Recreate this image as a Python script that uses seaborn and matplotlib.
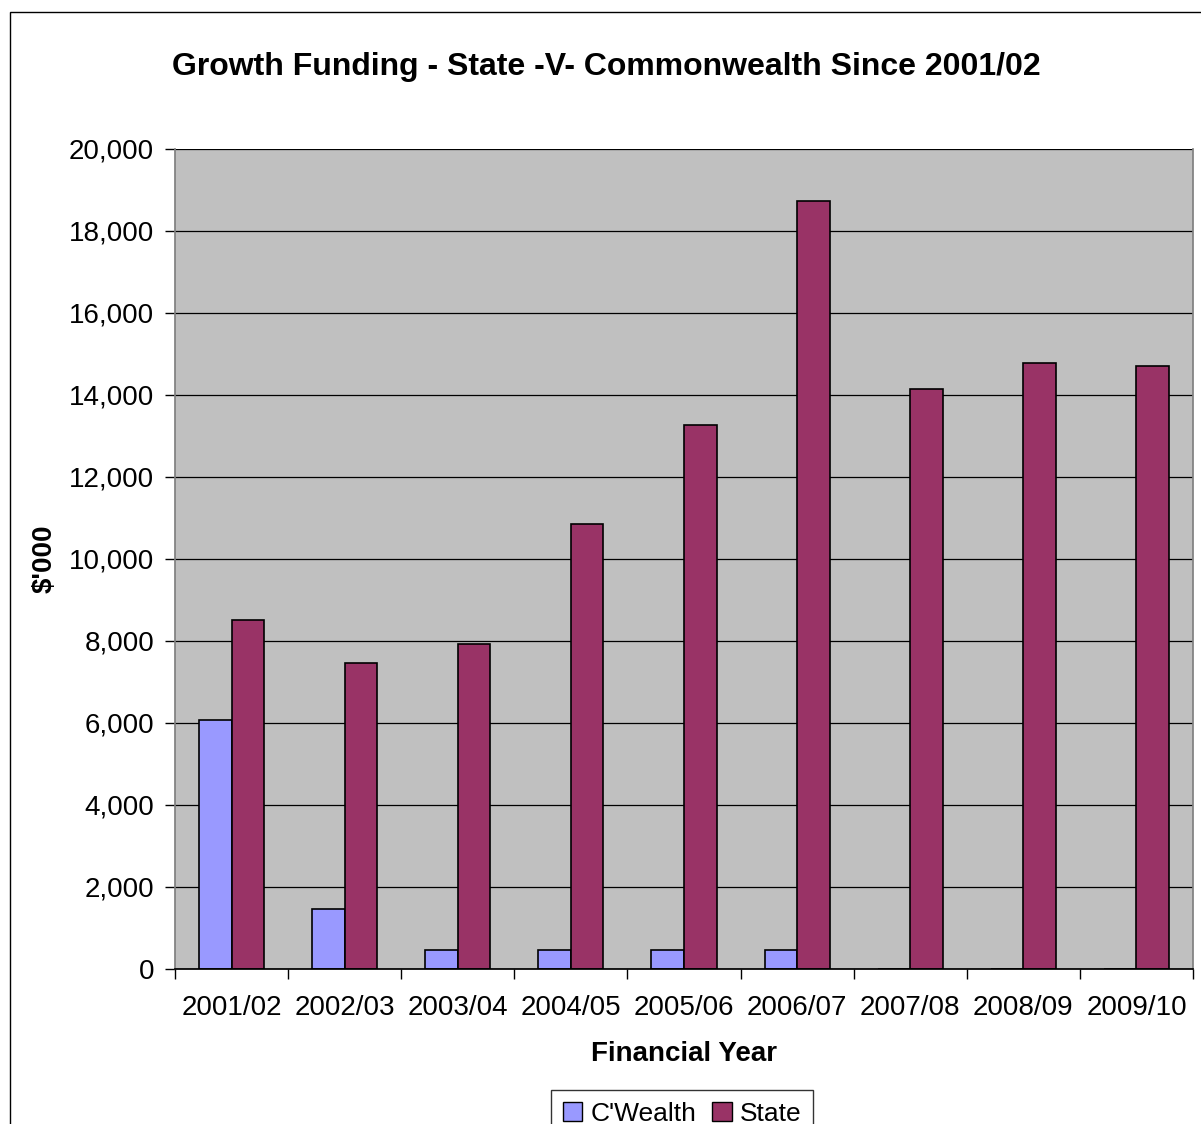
import matplotlib
matplotlib.use("Agg")
import matplotlib.pyplot as plt
import matplotlib.patches as mpatches
import pandas as pd
import seaborn as sns
from matplotlib.ticker import FuncFormatter, MultipleLocator

years = ["2001/02", "2002/03", "2003/04", "2004/05", "2005/06",
         "2006/07", "2007/08", "2008/09", "2009/10"]
cwealth = [6075, 1460, 475, 475, 475, 475, 0, 0, 0]
state = [8505, 7470, 7920, 10850, 13270, 18720, 14140, 14790, 14710]
series_names = ["C'Wealth", "State"]
series_colors = ["#9999FF", "#993366"]

df = pd.DataFrame({
    "year": years * 2,
    "value": cwealth + state,
    "series": [series_names[0]] * len(years) + [series_names[1]] * len(years),
})

sns.set_theme(style="white")
plt.rcParams["font.family"] = ["Liberation Sans", "DejaVu Sans"]
plt.rcParams["text.color"] = "black"
plt.rcParams["axes.labelcolor"] = "black"
plt.rcParams["xtick.color"] = "black"
plt.rcParams["ytick.color"] = "black"

fig = plt.figure(figsize=(12.01, 11.24), dpi=100)
ax = fig.add_axes([175 / 1201, (1124 - 969) / 1124, 1018 / 1201, 820 / 1124])

sns.barplot(data=df, x="year", y="value", hue="series", order=years,
            hue_order=series_names, palette=series_colors, width=0.575,
            edgecolor="black", linewidth=1.2, saturation=1, ax=ax, legend=False)

ax.set_facecolor("#C0C0C0")
ax.set_ylim(0, 20000)
ax.set_xlim(-0.5, len(years) - 0.5)
ax.yaxis.set_major_locator(MultipleLocator(2000))
ax.yaxis.set_major_formatter(FuncFormatter(lambda v, p: f"{int(v):,}"))
ax.grid(axis="y", color="black", linewidth=0.9)
ax.set_axisbelow(True)
ax.spines["top"].set_visible(False)
ax.spines["left"].set_color("#808080")
ax.spines["bottom"].set_color("black")
ax.spines["right"].set_color("#808080")

# Category boundary ticks on the x axis, labels centred on each category
ax.set_xticks([i - 0.5 for i in range(len(years) + 1)], minor=False)
ax.set_xticklabels([])
ax.set_xticks(range(len(years)), minor=True)
ax.set_xticklabels(years, minor=True, fontsize=20)
ax.tick_params(axis="x", which="major", direction="out", length=7, width=1, color="black", bottom=True)
ax.tick_params(axis="x", which="minor", length=0, pad=19)
ax.tick_params(axis="y", direction="out", length=7, width=1, color="black", left=True, labelsize=20, pad=8)

ax.set_xlabel("Financial Year", fontsize=20, fontweight="bold", labelpad=14)
ax.set_ylabel("$'000", fontsize=20, fontweight="bold", labelpad=8)
fig.suptitle("Growth Funding - State -V- Commonwealth Since 2001/02",
             x=606 / 1201, y=1 - 67 / 1124, va="center", fontsize=23, fontweight="bold")

handles = [mpatches.Patch(facecolor=c, edgecolor="black", label=n)
           for c, n in zip(series_colors, series_names)]
leg = fig.legend(handles=handles, loc="upper center", bbox_to_anchor=(682 / 1201, 1 - 1090 / 1124),
                 ncol=2, frameon=True, fontsize=19, handlelength=0.75, handleheight=0.75,
                 handletextpad=0.3, columnspacing=0.6, borderpad=0.45, borderaxespad=0,
                 fancybox=False)
leg.get_frame().set_edgecolor("black")
leg.get_frame().set_linewidth(1)

# Outer chart border
fig.patches.append(mpatches.Rectangle((10 / 1201, -0.01), 1.05, 1 - 12 / 1124 + 0.01,
                                      transform=fig.transFigure, fill=False,
                                      edgecolor="black", linewidth=1))

fig.savefig("out.png", dpi=100, facecolor="white")
